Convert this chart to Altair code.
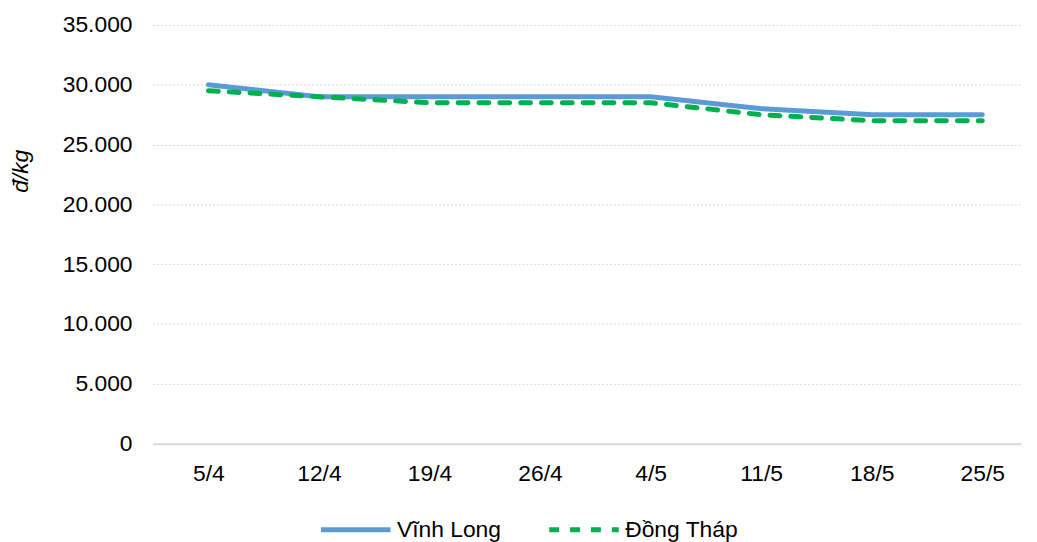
import altair as alt
import pandas as pd

dates = ["5/4", "12/4", "19/4", "26/4", "4/5", "11/5", "18/5", "25/5"]
vinh_long = [30000, 29000, 29000, 29000, 29000, 28000, 27500, 27500]
dong_thap = [29500, 29000, 28500, 28500, 28500, 27500, 27000, 27000]
series_names = ["Vĩnh Long", "Đồng Tháp"]
series_colors = ["#5B9BD5", "#00B050"]
y_ticks = [0, 5000, 10000, 15000, 20000, 25000, 30000, 35000]

rows = []
for d, v in zip(dates, vinh_long):
    rows.append({"date": d, "series": series_names[0], "price": v})
for d, v in zip(dates, dong_thap):
    rows.append({"date": d, "series": series_names[1], "price": v})
df = pd.DataFrame(rows)

FONT = "Liberation Sans"
FS = 23

x_enc = alt.X(
    "date:O", sort=dates,
    scale=alt.Scale(type="point", padding=0.4263, align=0.589),
    axis=alt.Axis(title=None, labelAngle=0, ticks=False, grid=False,
                  domainColor="#D9D9D9", domainWidth=2, labelPadding=19,
                  labelFontSize=FS, labelFont=FONT, labelColor="#000000"),
)
y_enc = alt.Y(
    "price:Q",
    scale=alt.Scale(domain=[0, 35000], nice=False),
    axis=alt.Axis(values=y_ticks, title="đ/kg", titleFontStyle="italic",
                  titleFontWeight="normal", titleFont=FONT, titleFontSize=FS,
                  titleColor="#000000", titleAngle=-90, titleAlign="center",
                  titleBaseline="alphabetic", titleX=-126, titleY=147,
                  labelExpr="replace(format(datum.value, ','), ',', '.')",
                  labelFont=FONT, labelFontSize=FS, labelColor="#000000",
                  labelPadding=21, ticks=False, domain=False,
                  gridColor="#D9D9D9", gridDash=[2, 2], gridWidth=1),
)
legend_cfg = dict(title=None, orient="none", legendX=167, legendY=471,
                  direction="horizontal", symbolType="stroke",
                  symbolSize=4900, symbolStrokeWidth=5, labelFont=FONT,
                  labelFontSize=FS, labelColor="#000000", labelOffset=4,
                  columnPadding=38)
color_enc = alt.Color(
    "series:N",
    scale=alt.Scale(domain=series_names, range=series_colors),
    legend=alt.Legend(**legend_cfg),
)
dash_enc = alt.StrokeDash(
    "series:N",
    scale=alt.Scale(domain=series_names, range=[[1, 0], [10, 11]]),
    legend=alt.Legend(**legend_cfg),
)

base = alt.Chart(df).encode(x=x_enc, y=y_enc, color=color_enc, strokeDash=dash_enc)

line_vl = base.transform_filter(alt.datum.series == series_names[0]).mark_line(
    strokeWidth=5, strokeCap="round", strokeJoin="round")
line_dt = base.transform_filter(alt.datum.series == series_names[1]).mark_line(
    strokeWidth=5, strokeCap="round", strokeJoin="round")

chart = alt.layer(line_vl, line_dt).properties(
    width=875, height=422,
    autosize=alt.AutoSizeParams(type="none"),
    padding={"left": 146, "top": 15, "right": 8, "bottom": 97},
).configure_view(stroke=None)

chart.save("out.html", embed_options={"renderer": "svg", "actions": False})
